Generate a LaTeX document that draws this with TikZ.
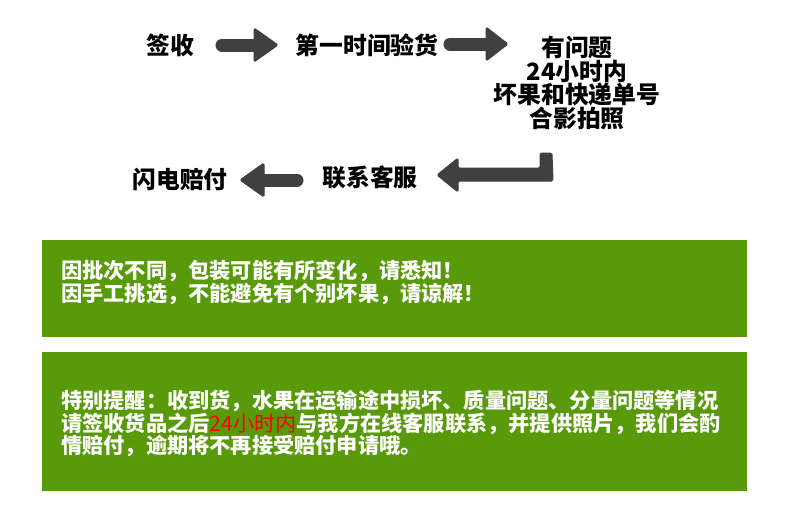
\documentclass[tikz,border=0pt]{standalone}
\usepackage{fontspec}
\setmainfont{Noto Sans CJK SC}
\usetikzlibrary{positioning}
\definecolor{boxgreen}{RGB}{88,154,10}
\definecolor{arrowgray}{RGB}{64,64,64}
\tikzset{
  steplabel/.style={font=\fontsize{23.8}{23.5}\selectfont\bfseries, text=black, inner sep=0pt, align=center},
  boxtext/.style={font=\fontsize{21.2}{22.5}\selectfont\bfseries, text=white, inner sep=0pt, align=left, anchor=west},
  greenbox/.style={fill=boxgreen, draw=none},
  blockarrow/.style={fill=arrowgray, draw=arrowgray, line width=1pt, line join=round, rounded corners=1.5pt},
}
\begin{document}
\begin{tikzpicture}[x=1pt,y=-1pt]
\useasboundingbox (0,0) rectangle (790,515);
\fill[white] (0,0) rectangle (790,515);

% step labels
\node[steplabel] (sign) at (170,45) {签收};
\node[steplabel] (check) at (367,45) {第一时间验货};
\node[steplabel] (problem) at (577,83) {有问题\\24小时内\\坏果和快递单号\\合影拍照};
\node[steplabel] (service) at (370,177) {联系客服};
\node[steplabel] (pay) at (180,180) {闪电赔付};

% arrow 1: sign -> check
\draw[arrowgray, line width=13pt, line cap=round] (222,45) -- (256,45);
\path[blockarrow] (254,28) -- (278,45) -- (254,62) -- cycle;

% arrow 2: check -> problem
\draw[arrowgray, line width=13pt, line cap=round] (450,44) -- (488,44);
\path[blockarrow] (486,27) -- (508,44) -- (486,61) -- cycle;

% arrow 3: problem -> service (bent)
\path[blockarrow] (458,168) -- (540,168) -- (540,153) -- (552,153) -- (553,181) -- (458,181)
  -- (458,192) -- (437,175) -- (458,158) -- cycle;

% arrow 4: service -> pay
\draw[arrowgray, line width=13pt, line cap=round] (262,180) -- (297,180);
\path[blockarrow] (264,163) -- (240,180) -- (264,197) -- cycle;

% green boxes
\path[greenbox] (42,240) rectangle (747,337);
\node[boxtext] (note1) at (61,282.5) {因批次不同，包装可能有所变化，请悉知！\\因手工挑选，不能避免有个别坏果，请谅解！};

\path[greenbox] (42,352) rectangle (747,491);
\node[boxtext] (note2) at (61,423.5) {特别提醒：收到货，水果在运输途中损坏、质量问题、分量问题等情况\\请签收货品之后{\mdseries\color{red}24小时内}与我方在线客服联系，并提供照片，我们会酌\\情赔付，逾期将不再接受赔付申请哦。};
\end{tikzpicture}
\end{document}
